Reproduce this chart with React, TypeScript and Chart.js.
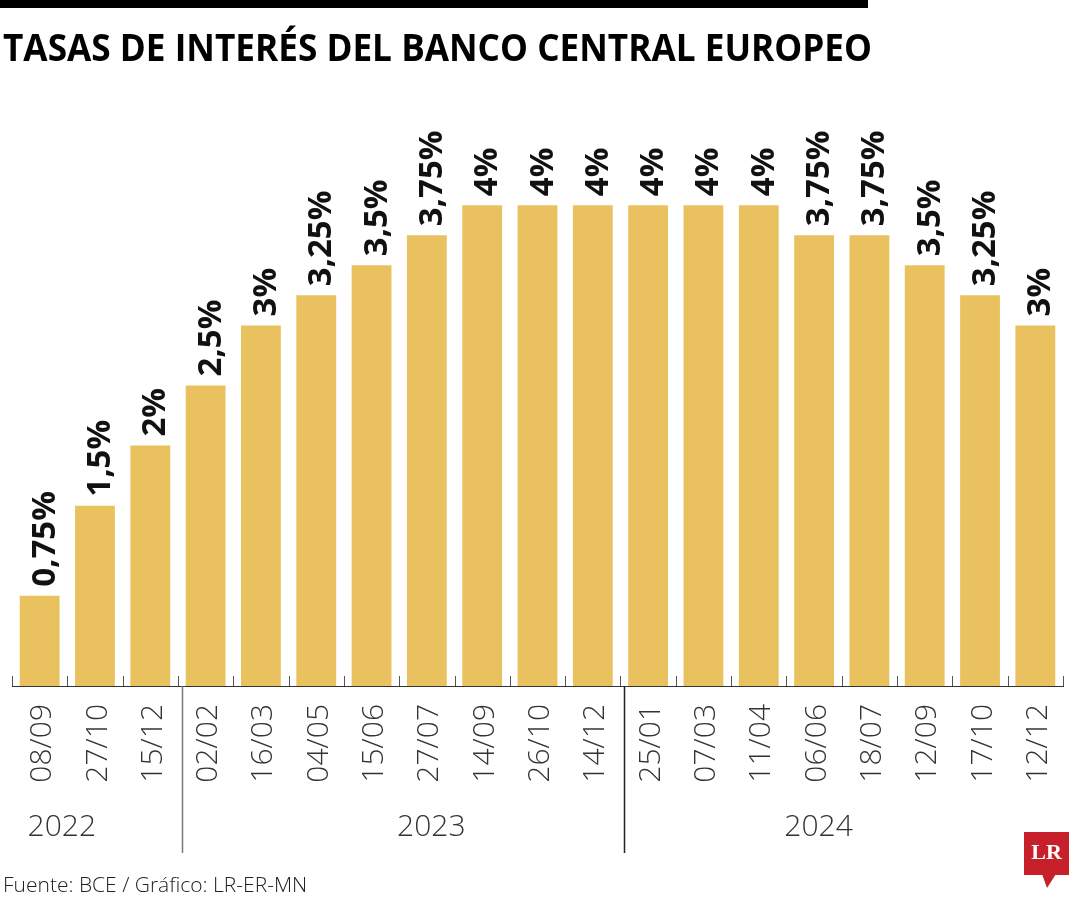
import React, { useEffect, useRef } from "react";
import { Chart, registerables } from "chart.js";

Chart.register(...registerables);

const TITLE = "TASAS DE INTERÉS DEL BANCO CENTRAL EUROPEO";
const SOURCE = "Fuente: BCE / Gráfico: LR-ER-MN";

const dates = [
  "08/09", "27/10", "15/12",
  "02/02", "16/03", "04/05", "15/06", "27/07", "14/09", "26/10", "14/12",
  "25/01", "07/03", "11/04", "06/06", "18/07", "12/09", "17/10", "12/12",
];
const rates = [0.75, 1.5, 2, 2.5, 3, 3.25, 3.5, 3.75, 4, 4, 4, 4, 4, 4, 3.75, 3.75, 3.5, 3.25, 3];
const rateLabels = [
  "0,75%", "1,5%", "2%", "2,5%", "3%", "3,25%", "3,5%", "3,75%", "4%", "4%", "4%",
  "4%", "4%", "4%", "3,75%", "3,75%", "3,5%", "3,25%", "3%",
];
const years = ["2022", "2023", "2024"];
const yearFirstIndex = [0, 3, 11];

const W = 1080;
const H = 900;
const FONT = "'Open Sans', 'DejaVu Sans', sans-serif";

const overlay = {
  id: "overlay",
  afterDatasetsDraw(chart: any) {
    const ctx = chart.ctx as CanvasRenderingContext2D;
    const xs = chart.scales.x;
    const area = chart.chartArea;
    ctx.save();

    // top black rule
    ctx.fillStyle = "#000";
    ctx.fillRect(0, 0, 868, 8);

    // title (condensed to fit)
    ctx.font = `bold 38px ${FONT}`;
    ctx.textAlign = "left";
    ctx.textBaseline = "alphabetic";
    const tw = ctx.measureText(TITLE).width;
    ctx.save();
    ctx.translate(3, 61);
    ctx.scale(869 / tw, 1);
    ctx.fillStyle = "#000";
    ctx.fillText(TITLE, 0, 0);
    ctx.restore();

    // upward tick marks at category boundaries
    ctx.strokeStyle = "#555";
    ctx.lineWidth = 1;
    for (let i = 0; i <= dates.length; i++) {
      const x = Math.round(xs.getPixelForValue(i - 0.5)) + 0.5;
      ctx.beginPath();
      ctx.moveTo(x, area.bottom);
      ctx.lineTo(x, area.bottom - 10);
      ctx.stroke();
    }

    // value labels
    const meta = chart.getDatasetMeta(0);
    ctx.font = `bold 33px ${FONT}`;
    ctx.fillStyle = "#111";
    ctx.textAlign = "left";
    ctx.textBaseline = "alphabetic";
    meta.data.forEach((bar: any, i: number) => {
      ctx.save();
      ctx.translate(bar.x, bar.y - 9);
      ctx.rotate(-Math.PI / 2);
      ctx.fillText(rateLabels[i], 0, 15);
      ctx.restore();
    });

    // year separators
    yearFirstIndex.slice(1).forEach((idx, k) => {
      const x = Math.round(xs.getPixelForValue(idx - 0.5)) + 4.5;
      ctx.strokeStyle = k === 0 ? "#777" : "#222";
      ctx.lineWidth = 1.5;
      ctx.beginPath();
      ctx.moveTo(x, area.bottom);
      ctx.lineTo(x, 853);
      ctx.stroke();
    });

    // year labels
    const yearAnchor = [0.4, 7.08, 14.08];
    ctx.font = `300 30px ${FONT}`;
    ctx.fillStyle = "#333";
    ctx.textAlign = "center";
    ctx.textBaseline = "alphabetic";
    years.forEach((y, k) => {
      ctx.fillText(y, xs.getPixelForValue(yearAnchor[k]), 836);
    });

    // source
    ctx.font = `300 21px ${FONT}`;
    ctx.fillStyle = "#222";
    ctx.textAlign = "left";
    ctx.fillText(SOURCE, 3, 892);

    // LR logo
    ctx.fillStyle = "#C8202A";
    ctx.fillRect(1024, 832, 45, 43);
    ctx.beginPath();
    ctx.moveTo(1042, 874);
    ctx.lineTo(1056, 874);
    ctx.lineTo(1047, 888);
    ctx.closePath();
    ctx.fill();
    ctx.fillStyle = "#fff";
    ctx.font = "bold 22px 'Liberation Serif', 'DejaVu Serif', serif";
    ctx.textAlign = "center";
    ctx.fillText("LR", 1046.5, 859);

    ctx.restore();
  },
};

export default function App() {
  const ref = useRef<HTMLCanvasElement | null>(null);

  useEffect(() => {
    if (!ref.current) return;
    const chart = new Chart(ref.current, {
      type: "bar",
      data: {
        labels: dates,
        datasets: [
          {
            data: rates,
            backgroundColor: "#E9C15F",
            borderWidth: 0,
            barPercentage: 0.72,
            categoryPercentage: 1,
          },
        ],
      },
      options: {
        animation: false,
        responsive: false,
        devicePixelRatio: 1,
        layout: { padding: { left: 12, right: 17, top: 85, bottom: 0 } },
        plugins: {
          legend: { display: false },
          tooltip: { enabled: false },
          title: { display: false },
        },
        scales: {
          x: {
            grid: { display: false, drawTicks: false },
            border: { display: true, color: "#333", width: 1 },
            ticks: {
              color: "#333",
              font: { family: FONT, size: 30, weight: "300" },
              minRotation: 90,
              maxRotation: 90,
              padding: 18,
              labelOffset: 3,
              autoSkip: false,
            },
            afterFit: (s: any) => {
              s.height = 214;
              s.paddingLeft = 0;
              s.paddingRight = 0;
            },
          },
          y: { display: false, min: 0, max: 5 },
        },
      },
      plugins: [overlay],
    } as any);
    return () => chart.destroy();
  }, []);

  return (
    <div style={{ position: "fixed", left: 0, top: 0, width: W, height: H, background: "#fff" }}>
      <canvas ref={ref} width={W} height={H} style={{ display: "block" }} />
    </div>
  );
}
